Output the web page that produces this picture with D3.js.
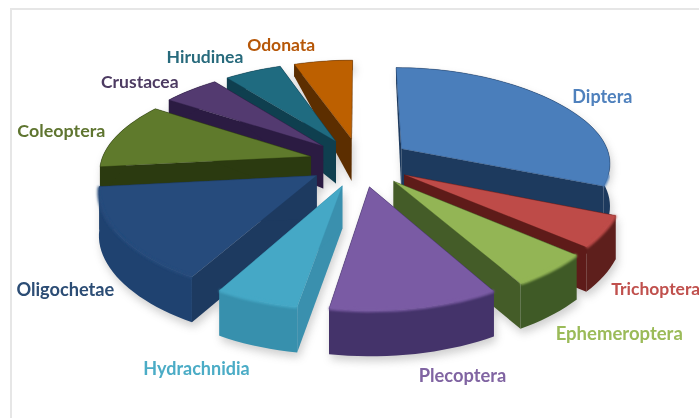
<!DOCTYPE html>
<html>
<head>
<meta charset="utf-8">
<script src="https://cdn.jsdelivr.net/npm/d3@7/dist/d3.min.js"></script>
<style>
  html, body { margin: 0; padding: 0; background: #fff; overflow: hidden; }
  svg { filter: blur(0.5px); }
  text { font-family: Lato, "Open Sans", sans-serif; font-weight: 700; }
</style>
</head>
<body>
<svg id="chart" width="699" height="418"></svg>
<script>
const categories = ["Diptera", "Trichoptera", "Ephemeroptera", "Plecoptera", "Hydrachnidia",
  "Oligochetae", "Coleoptera", "Crustacea", "Hirudinea", "Odonata"];
const values = [31.2, 5, 5.4, 11.1, 5.5, 15.1, 10.8, 5.1, 5.3, 5.5];

const topColors = ["#4a7ebb", "#be4b48", "#93b555", "#7a5ba4", "#45a8c6", "#264b7c", "#5f7a2c", "#533a70", "#1f6b80", "#bd6000"];
const cutColors = ["#1d3a5e", "#5e1b19", "#445c28", "#44336a", "#3a90ae", "#1d3a60", "#2b3a10", "#2b1b42", "#0f3f4f", "#5c2e00"];
const rimColors = ["#1d3a5e", "#5e1f1c", "#3f5a26", "#44336a", "#3790ad", "#1f4270", "#2b3a10", "#2b1b42", "#0f3f4f", "#5c2e00"];
const labelColors = ["#4f81bd", "#c0504d", "#9bbb59", "#8064a2", "#4bacc6", "#2c4d75", "#5f7530", "#4d3b62", "#276a7c", "#b65708"];
const labelSizes = [18, 17.5, 18.5, 18.3, 18, 18.2, 17.9, 17.5, 17.5, 17.5];
// label shift in px from the rim point at the middle of each slice
const labelNudge = [[49, -2], [52, 59], [68, 65], [47, 69], [-60, 70], [-55, 55], [-56, -3], [-51, -6], [-48, -13], [-42, -15]];

const width = 699, height = 418;
const cx = 360, cy = 162;
const rx = 203, ry = 97, persp = 0.15, explode = 0.25, bulge = 0.035;

const svg = d3.select("#chart");

// soft blur under the pie + bevel highlight
const defs = svg.append("defs");
defs.append("filter").attr("id", "soft").attr("x", "-20%").attr("y", "-20%").attr("width", "140%").attr("height", "140%")
  .append("feGaussianBlur").attr("stdDeviation", 4);
defs.append("filter").attr("id", "bevel").attr("x", "-20%").attr("y", "-20%").attr("width", "140%").attr("height", "140%")
  .append("feGaussianBlur").attr("stdDeviation", 1.3);

// frame
svg.append("path").attr("d", d3.line()([[11, height], [11, 9], [width, 9]]))
  .attr("fill", "none").attr("stroke", "#e6e6e6").attr("stroke-width", 2);

const pie = d3.pie().sort(null).value((d) => d.value);
const slices = pie(categories.map((name, i) => ({ name, value: values[i], i })));

const depthScale = d3.scaleLinear().domain([-1.25, -0.25, 1.4]).range([10, 42, 46]).clamp(true);
const line = d3.line();

const ground = (s, a) => {
  const mid = (s.startAngle + s.endAngle) / 2;
  const sa = Math.sin(a);
  return [explode * Math.sin(mid) + sa * (1 + bulge * sa ** 4), -explode * Math.cos(mid) - Math.cos(a)];
};
const apexGround = (s) => {
  const mid = (s.startAngle + s.endAngle) / 2;
  return [explode * Math.sin(mid), -explode * Math.cos(mid)];
};
const project = ([X, Y]) => {
  const w = 1 - persp * Y;
  return [cx + (rx * X) / w, cy + (ry * Y) / w];
};
const drop = (g) => {
  const p = project(g);
  return [p[0], p[1] + depthScale(g[1])];
};

const rimGround = (s) => {
  const n = Math.max(4, Math.ceil((s.endAngle - s.startAngle) / 0.04));
  return d3.range(n + 1).map((j) => ground(s, s.startAngle + ((s.endAngle - s.startAngle) * j) / n));
};

const topFace = (s) => line([project(apexGround(s)), ...rimGround(s).map(project)]) + "Z";
const rimFace = (s) => {
  const r = rimGround(s);
  return line([...r.map(project), ...r.slice().reverse().map(drop)]) + "Z";
};
const cutFace = (s, a) => {
  const ap = apexGround(s), g = ground(s, a);
  return line([project(ap), project(g), drop(g), drop(ap)]) + "Z";
};

// back slices first
const ordered = slices.slice().sort((a, b) => apexGround(a)[1] - apexGround(b)[1]);

const shadow = svg.append("g").attr("filter", "url(#soft)").attr("opacity", 0.35).attr("transform", "translate(2,5)");
ordered.forEach((s) => {
  shadow.append("path").attr("d", rimFace(s)).attr("fill", "#777");
  shadow.append("path").attr("d", cutFace(s, s.startAngle)).attr("fill", "#777");
  shadow.append("path").attr("d", cutFace(s, s.endAngle)).attr("fill", "#777");
});

const pieLayer = svg.append("g").attr("class", "pie");
ordered.forEach((s) => {
  const i = s.data.i;
  const g = pieLayer.append("g");
  g.append("path").attr("d", cutFace(s, s.startAngle)).attr("fill", cutColors[i]);
  g.append("path").attr("d", cutFace(s, s.endAngle)).attr("fill", cutColors[i]);
  g.append("path").attr("d", rimFace(s)).attr("fill", rimColors[i]);
  g.append("path").attr("d", topFace(s)).attr("fill", topColors[i])
    .attr("stroke", cutColors[i]).attr("stroke-opacity", 0.5).attr("stroke-width", 0.8);
  // light edge where the top rounds over into the rim, only on the visible front part
  const front = rimGround(s).filter((p) => p[1] > 0.1);
  if (front.length > 1) {
    g.append("path").attr("d", line(front.map(project))).attr("fill", "none")
      .attr("stroke", topColors[i]).attr("stroke-width", 3).attr("filter", "url(#bevel)");
  }
});

// labels
const labels = svg.append("g");
slices.forEach((s) => {
  const i = s.data.i;
  const p = project(ground(s, (s.startAngle + s.endAngle) / 2));
  labels.append("text")
    .attr("x", p[0] + labelNudge[i][0])
    .attr("y", p[1] + labelNudge[i][1])
    .attr("text-anchor", "middle")
    .attr("dominant-baseline", "middle")
    .attr("font-size", labelSizes[i])
    .attr("fill", labelColors[i])
    .text(s.data.name);
});
</script>
</body>
</html>
